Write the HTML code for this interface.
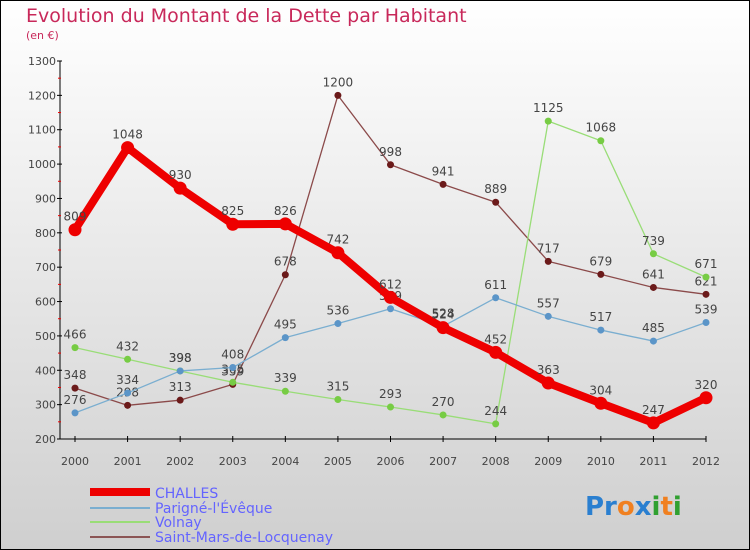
<!DOCTYPE html>
<html><head><meta charset="utf-8"><style>
body{margin:0}
#c{width:750px;height:550px;position:relative;overflow:hidden;font-family:"DejaVu Sans","Liberation Sans",sans-serif}
</style></head><body>
<div id="c">
<svg id="s" width="750" height="550" xmlns="http://www.w3.org/2000/svg">
<defs><linearGradient id="bg" x1="0" y1="0" x2="0" y2="1"><stop offset="0" stop-color="#ffffff"/><stop offset="1" stop-color="#cfcfcf"/></linearGradient></defs>
<rect x="0.5" y="0.5" width="749" height="549" fill="url(#bg)" stroke="#000"/>
<text x="26" y="22" font-size="19" fill="#c8285a">Evolution du Montant de la Dette par Habitant</text>
<text x="26" y="39" font-size="11" fill="#c8285a">(en €)</text>
<g id="axes"></g><g id="series"></g>
<g>
<rect x="90" y="488" width="60" height="8" fill="#e00"/>
<text x="155" y="498" font-size="14" fill="#6464ff">CHALLES</text>
<line x1="90" y1="508" x2="150" y2="508" stroke="#7aaed0" stroke-width="2"/>
<text x="155" y="513" font-size="14" fill="#6464ff">Parigné-l'Évêque</text>
<line x1="90" y1="522" x2="150" y2="522" stroke="#99dd77" stroke-width="2"/>
<text x="155" y="527" font-size="14" fill="#6464ff">Volnay</text>
<line x1="90" y1="537" x2="150" y2="537" stroke="#8b5555" stroke-width="2"/>
<text x="155" y="542" font-size="14" fill="#6464ff">Saint-Mars-de-Locquenay</text>
</g>
<text x="585" y="515" font-size="26" font-weight="bold"><tspan fill="#2a7fd0">Pr</tspan><tspan fill="#f08020">o</tspan><tspan fill="#2a7fd0">x</tspan><tspan fill="#30a030">i</tspan><tspan fill="#f08020">t</tspan><tspan fill="#30a030">i</tspan></text>
</svg>
</div>
<script>
const years=[2000,2001,2002,2003,2004,2005,2006,2007,2008,2009,2010,2011,2012];
const yTicks=[200,300,400,500,600,700,800,900,1000,1100,1200,1300];
const challes=[809,1048,930,825,826,742,612,524,452,363,304,247,320];
const parigne=[276,334,398,408,495,536,579,528,611,557,517,485,539];
const volnay=[466,432,398,365,339,315,293,270,244,1125,1068,739,671];
const saintMars=[348,298,313,359,678,1200,998,941,889,717,679,641,621];
const NS="http://www.w3.org/2000/svg";
function X(i){return 75+i*(706-75)/12;}
function Y(v){return 439-(v-200)*(439-61)/1100;}
function mk(t,a,p){const e=document.createElementNS(NS,t);for(const k in a)e.setAttribute(k,a[k]);p.appendChild(e);return e;}
const ax=document.getElementById('axes');
mk('line',{x1:60,y1:61,x2:60,y2:439,stroke:'#000'},ax);
mk('line',{x1:60,y1:439,x2:706,y2:439,stroke:'#000'},ax);
yTicks.forEach(v=>{
 mk('line',{x1:57,y1:Y(v),x2:62,y2:Y(v),stroke:'#000'},ax);
 const t=mk('text',{x:56,y:Y(v)+4,'font-size':11,'text-anchor':'end',fill:'#444'},ax);t.textContent=v;
 
 
 if(v<1300)mk('line',{x1:58,y1:Y(v+50),x2:61,y2:Y(v+50),stroke:'#e00'},ax);
});
years.forEach((yr,i)=>{
 mk('line',{x1:X(i),y1:436,x2:X(i),y2:442,stroke:'#000'},ax);
 const t=mk('text',{x:X(i),y:465,'font-size':11,'text-anchor':'middle',fill:'#444'},ax);t.textContent=yr;
 
 
});
const sg=document.getElementById('series');
function draw(data,color,dot,w,r,name){
 const g=mk('g',{},sg);
 
 
 mk('polyline',{points:data.map((v,i)=>X(i)+','+Y(v)).join(' '),fill:'none',stroke:color,'stroke-width':w,'stroke-linejoin':'round'},g);
 data.forEach((v,i)=>{
  const c=mk('circle',{cx:X(i),cy:Y(v),r:r,fill:dot},g);
  
  
  const t=mk('text',{x:X(i),y:Y(v)-9,'font-size':12,'text-anchor':'middle',fill:'#444'},g);t.textContent=v;
  
  
 });
}
draw(saintMars,'#8b4a4a','#6b1a1a',1.3,3.5,'series-saint-mars');
draw(volnay,'#99dd77','#77cc44',1.3,3.5,'series-volnay');
draw(parigne,'#7aaed0','#5b95c8',1.3,3.5,'series-parigne');
draw(challes,'#ee0000','#ee0000',8,6.5,'series-challes');
</script>
</body></html>
